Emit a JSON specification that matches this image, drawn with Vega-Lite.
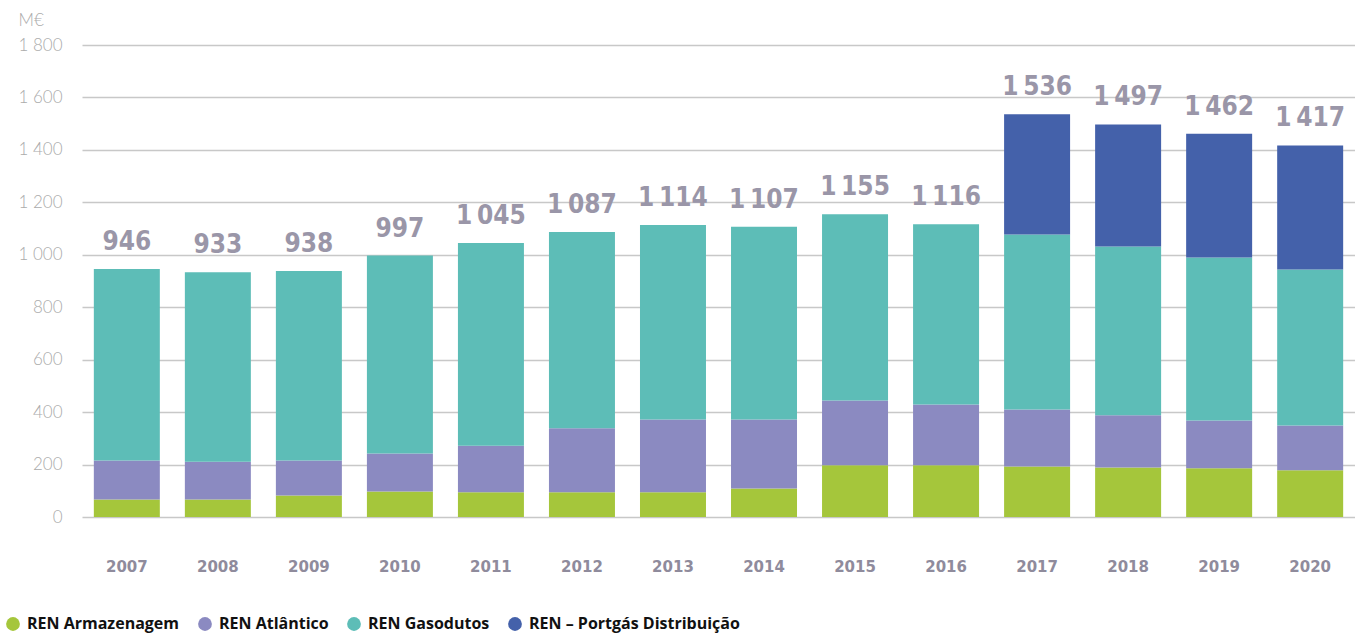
{
  "$schema": "https://vega.github.io/schema/vega-lite/v6.json",
  "width": 1273,
  "height": 472,
  "autosize": {"type": "none"},
  "padding": {"left": 82, "top": 45, "right": 0, "bottom": 119},
  "background": "white",
  "config": {
    "view": {"stroke": null},
    "locale": {"number": {"decimal": ",", "thousands": "\u2009", "grouping": [3], "currency": ["", " €"]}}
  },
  "data": {
    "values": [
      {"year": "2007", "series": "REN Armazenagem", "value": 67},
      {"year": "2007", "series": "REN Atlântico", "value": 148},
      {"year": "2007", "series": "REN Gasodutos", "value": 731},
      {"year": "2008", "series": "REN Armazenagem", "value": 67},
      {"year": "2008", "series": "REN Atlântico", "value": 144},
      {"year": "2008", "series": "REN Gasodutos", "value": 722},
      {"year": "2009", "series": "REN Armazenagem", "value": 82},
      {"year": "2009", "series": "REN Atlântico", "value": 133},
      {"year": "2009", "series": "REN Gasodutos", "value": 723},
      {"year": "2010", "series": "REN Armazenagem", "value": 97},
      {"year": "2010", "series": "REN Atlântico", "value": 145},
      {"year": "2010", "series": "REN Gasodutos", "value": 755},
      {"year": "2011", "series": "REN Armazenagem", "value": 94},
      {"year": "2011", "series": "REN Atlântico", "value": 178},
      {"year": "2011", "series": "REN Gasodutos", "value": 773},
      {"year": "2012", "series": "REN Armazenagem", "value": 94},
      {"year": "2012", "series": "REN Atlântico", "value": 244},
      {"year": "2012", "series": "REN Gasodutos", "value": 749},
      {"year": "2013", "series": "REN Armazenagem", "value": 94},
      {"year": "2013", "series": "REN Atlântico", "value": 278},
      {"year": "2013", "series": "REN Gasodutos", "value": 742},
      {"year": "2014", "series": "REN Armazenagem", "value": 109},
      {"year": "2014", "series": "REN Atlântico", "value": 263},
      {"year": "2014", "series": "REN Gasodutos", "value": 735},
      {"year": "2015", "series": "REN Armazenagem", "value": 197},
      {"year": "2015", "series": "REN Atlântico", "value": 247},
      {"year": "2015", "series": "REN Gasodutos", "value": 711},
      {"year": "2016", "series": "REN Armazenagem", "value": 197},
      {"year": "2016", "series": "REN Atlântico", "value": 232},
      {"year": "2016", "series": "REN Gasodutos", "value": 687},
      {"year": "2017", "series": "REN Armazenagem", "value": 193},
      {"year": "2017", "series": "REN Atlântico", "value": 217},
      {"year": "2017", "series": "REN Gasodutos", "value": 667},
      {"year": "2017", "series": "REN – Portgás Distribuição", "value": 459},
      {"year": "2018", "series": "REN Armazenagem", "value": 189},
      {"year": "2018", "series": "REN Atlântico", "value": 199},
      {"year": "2018", "series": "REN Gasodutos", "value": 644},
      {"year": "2018", "series": "REN – Portgás Distribuição", "value": 465},
      {"year": "2019", "series": "REN Armazenagem", "value": 186},
      {"year": "2019", "series": "REN Atlântico", "value": 182},
      {"year": "2019", "series": "REN Gasodutos", "value": 622},
      {"year": "2019", "series": "REN – Portgás Distribuição", "value": 472},
      {"year": "2020", "series": "REN Armazenagem", "value": 178},
      {"year": "2020", "series": "REN Atlântico", "value": 171},
      {"year": "2020", "series": "REN Gasodutos", "value": 595},
      {"year": "2020", "series": "REN – Portgás Distribuição", "value": 473}
    ]
  },
  "encoding": {
    "x": {
      "field": "year",
      "type": "ordinal",
      "scale": {"paddingInner": 0.275, "paddingOuter": 0.13},
      "axis": {
        "title": null,
        "labelAngle": 0,
        "domain": false,
        "ticks": false,
        "labelPadding": 42,
        "labelFont": "DejaVu Sans",
        "labelFontWeight": "bold",
        "labelFontSize": 15,
        "labelColor": "#8f8b9c"
      }
    }
  },
  "layer": [
    {
      "mark": {"type": "bar"},
      "encoding": {
        "y": {
          "field": "value",
          "type": "quantitative",
          "aggregate": "sum",
          "stack": "zero",
          "scale": {"domain": [0, 1800], "nice": false},
          "axis": {
            "values": [0, 200, 400, 600, 800, 1000, 1200, 1400, 1600, 1800],
            "labelExpr": "datum.value >= 1000 ? floor(datum.value / 1000) + ' ' + format(datum.value % 1000, '03d') : '' + datum.value",
            "domain": false,
            "ticks": false,
            "labelPadding": 20,
            "labelFont": "Lato",
            "labelFontWeight": 300,
            "labelFontSize": 17,
            "labelColor": "#ababab",
            "gridColor": "#c8c8c8",
            "gridWidth": 1.5,
            "title": "M€",
            "titleAngle": 0,
            "titleX": -64,
            "titleY": -20,
            "titleAlign": "left",
            "titleBaseline": "alphabetic",
            "titleFont": "Lato",
            "titleFontWeight": 300,
            "titleFontSize": 17,
            "titleColor": "#ababab"
          }
        },
        "color": {
          "field": "series",
          "type": "nominal",
          "scale": {
            "domain": ["REN Armazenagem", "REN Atlântico", "REN Gasodutos", "REN – Portgás Distribuição"],
            "range": ["#a5c63b", "#8b8ac1", "#5dbdb7", "#4461aa"]
          },
          "legend": {
            "title": null,
            "orient": "none",
            "direction": "horizontal",
            "columns": 4,
            "legendX": -77,
            "legendY": 571,
            "symbolType": "circle",
            "symbolSize": 190,
            "symbolStrokeWidth": 0,
            "symbolOpacity": 1,
            "labelFont": "Open Sans",
            "labelFontWeight": "bold",
            "labelFontSize": 16,
            "labelColor": "#111111",
            "labelLimit": 400,
            "labelOffset": 6,
            "columnPadding": 17
          }
        },
        "order": {"field": "series", "type": "nominal", "sort": "ascending"}
      }
    },
    {
      "mark": {
        "type": "text",
        "baseline": "alphabetic",
        "dy": -19,
        "font": "DejaVu Sans Condensed, Roboto, sans-serif",
        "fontWeight": "bold",
        "fontSize": 26,
        "color": "#9a96a8"
      },
      "encoding": {
        "y": {"field": "value", "type": "quantitative", "aggregate": "sum"},
        "text": {"field": "value", "type": "quantitative", "aggregate": "sum", "format": ","}
      }
    }
  ]
}
